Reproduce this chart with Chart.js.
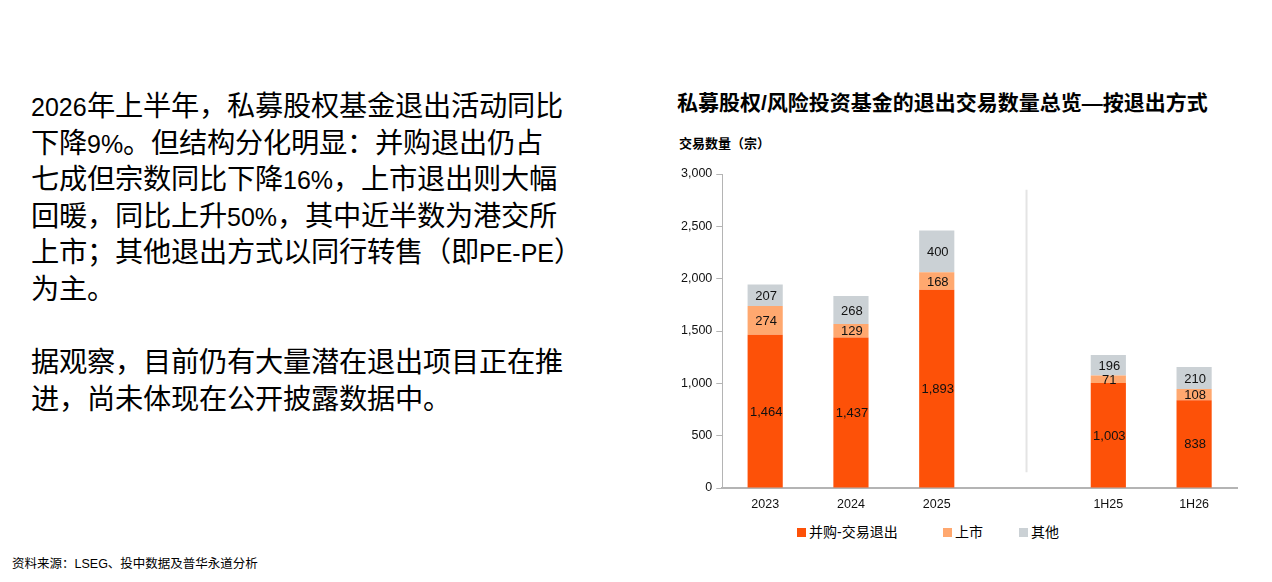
<!DOCTYPE html>
<html>
<head>
<meta charset="utf-8">
<script src="https://cdn.jsdelivr.net/npm/chart.js@4.4.1/dist/chart.umd.min.js"></script>
<style>
  @font-face {
    font-family: "CJKBig";
    src: local("Noto Sans CJK SC"), local("Noto Sans CJK SC Regular"), local("NotoSansCJKsc-Regular");
    size-adjust: 113%;
  }
  html, body { margin: 0; padding: 0; background: #fff; }
  body { width: 1272px; height: 582px; position: relative; overflow: hidden; color: #111; }
  .body-text {
    position: absolute; left: 31px; top: 89px;
    font-family: "Liberation Sans", "CJKBig", "Noto Sans CJK SC", sans-serif;
    font-size: 25px; line-height: 36.6px; white-space: nowrap; color: #000;
  }
  .title {
    position: absolute; left: 677px; top: 86px;
    font-family: "Liberation Sans", "Noto Sans CJK SC", sans-serif;
    font-weight: bold; font-size: 21px; white-space: nowrap; color: #000;
  }
  .ylabel {
    position: absolute; left: 679px; top: 133px;
    font-family: "Noto Sans CJK SC", sans-serif;
    font-weight: bold; font-size: 13px; white-space: nowrap; color: #000;
  }
  .source {
    position: absolute; left: 12px; top: 553px;
    font-family: "Liberation Sans", "Noto Sans CJK SC", sans-serif;
    font-size: 12.5px; white-space: nowrap; color: #000;
  }
  .chart-box { position: absolute; left: 660px; top: 150px; width: 580px; height: 371px; }
  .legend {
    position: absolute; top: 523px; left: 797px; height: 18px;
    font-family: "Liberation Sans", "Noto Sans CJK SC", sans-serif;
    font-size: 14px; white-space: nowrap; color: #000;
  }
  .legend span.item { position: absolute; top: 0; line-height: 18px; }
  .legend i { display: inline-block; width: 9px; height: 9px; margin-right: 3px; vertical-align: 0px; }
</style>
</head>
<body>
<div class="body-text">2026年上半年，私募股权基金退出活动同比<br>下降9%。但结构分化明显：并购退出仍占<br>七成但宗数同比下降16%，上市退出则大幅<br>回暖，同比上升50%，其中近半数为港交所<br>上市；其他退出方式以同行转售（即PE-PE）<br>为主。<br><br>据观察，目前仍有大量潜在退出项目正在推<br>进，尚未体现在公开披露数据中。</div>

<div class="title">私募股权/风险投资基金的退出交易数量总览—按退出方式</div>
<div class="ylabel">交易数量（宗）</div>

<div class="chart-box"><canvas id="exit-chart"></canvas></div>

<div class="legend" id="legend"></div>

<div class="source">资料来源：LSEG、投中数据及普华永道分析</div>

<script>
const categories = ['2023', '2024', '2025', '', '1H25', '1H26'];
const maValues = [1464, 1437, 1893, null, 1003, 838];
const ipoValues = [274, 129, 168, null, 71, 108];
const otherValues = [207, 268, 400, null, 196, 210];
const seriesNames = ['并购-交易退出', '上市', '其他'];
const seriesColors = ['#FD5108', '#FFA86F', '#CBD1D5'];
const yTicks = [0, 500, 1000, 1500, 2000, 2500, 3000];

// divider between full years and half years sits on the empty category
const dividerIndex = 3;
const dividerRange = [150, 2850];

const fmt = v => v.toLocaleString('en-US');

const valueLabels = {
    id: 'valueLabels',
    afterDatasetsDraw(chart) {
        const ctx = chart.ctx;
        ctx.save();
        ctx.font = '13px "Liberation Sans", Arial, sans-serif';
        ctx.fillStyle = '#111';
        ctx.textAlign = 'center';
        ctx.textBaseline = 'middle';
        chart.data.datasets.forEach((ds, i) => {
            chart.getDatasetMeta(i).data.forEach((bar, j) => {
                const v = ds.data[j];
                if (v == null) return;
                ctx.fillText(fmt(v), bar.x + 1, (bar.y + bar.base) / 2 + 1);
            });
        });
        ctx.restore();
    }
};

const divider = {
    id: 'divider',
    beforeDatasetsDraw(chart) {
        const x = chart.scales.x.getPixelForValue(dividerIndex) + 4;
        const y0 = chart.scales.y.getPixelForValue(dividerRange[0]);
        const y1 = chart.scales.y.getPixelForValue(dividerRange[1]);
        const ctx = chart.ctx;
        ctx.save();
        ctx.strokeStyle = '#E4E4E4';
        ctx.lineWidth = 2;
        ctx.beginPath();
        ctx.moveTo(x, y0);
        ctx.lineTo(x, y1);
        ctx.stroke();
        ctx.restore();
    }
};

const exitCtx = document.getElementById('exit-chart').getContext('2d');

const exitChart = new Chart(exitCtx, {
    type: 'bar',
    data: {
        labels: categories,
        datasets: [
            { label: seriesNames[0], data: maValues, backgroundColor: seriesColors[0] },
            { label: seriesNames[1], data: ipoValues, backgroundColor: seriesColors[1] },
            { label: seriesNames[2], data: otherValues, backgroundColor: seriesColors[2] }
        ]
    },
    options: {
        responsive: true,
        maintainAspectRatio: false,
        animation: false,
        layout: { padding: { top: 24, right: 3, left: 17, bottom: 0 } },
        datasets: { bar: { barPercentage: 0.41, categoryPercentage: 1 } },
        plugins: {
            legend: { display: false },
            tooltip: { enabled: false }
        },
        scales: {
            x: {
                stacked: true,
                grid: { display: false, drawTicks: false },
                border: { display: true, color: '#B4B4B4', width: 2 },
                ticks: {
                    color: '#111',
                    padding: 9,
                    font: { family: '"Liberation Sans", Arial, sans-serif', size: 12.5 }
                }
            },
            y: {
                stacked: true,
                min: 0,
                max: 3000,
                afterBuildTicks(axis) { axis.ticks = yTicks.map(v => ({ value: v })); },
                grid: { drawOnChartArea: false, drawTicks: true, tickLength: 6, color: '#B4B4B4' },
                border: { display: true, color: '#B4B4B4', width: 1 },
                ticks: {
                    color: '#111',
                    padding: 4,
                    font: { family: '"Liberation Sans", Arial, sans-serif', size: 12.5 },
                    callback: v => fmt(v)
                }
            }
        }
    },
    plugins: [divider, valueLabels]
});

// legend entries, positioned like the original report
const legendOffsets = [0, 146, 222];
const legendEl = document.getElementById('legend');
seriesNames.forEach((name, i) => {
    const item = document.createElement('span');
    item.className = 'item';
    item.style.left = legendOffsets[i] + 'px';
    item.innerHTML = '<i style="background:' + seriesColors[i] + '"></i>' + name;
    legendEl.appendChild(item);
});
</script>
</body>
</html>
